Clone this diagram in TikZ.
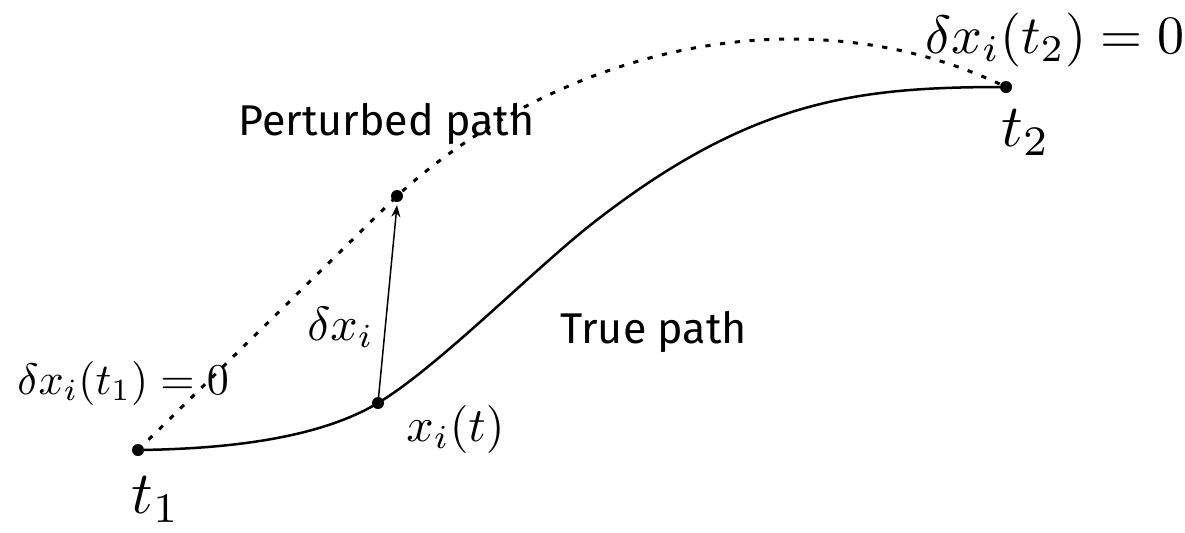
\documentclass[tikz,border=0pt]{standalone}
\usepackage{graphicx}
\usepackage{fontspec}
\usetikzlibrary{arrows.meta}
\newfontfamily\labelfont{Fira Sans}
\begin{document}
\begin{tikzpicture}[x=0.5pt,y=-0.5pt,
  dot/.style={circle,fill=black,inner sep=0pt,minimum size=6pt},
  truepath/.style={line width=1.25pt},
  pertpath/.style={line width=1.5pt,dash pattern=on 2.6pt off 4.8pt},
  vararrow/.style={line width=0.75pt,-{Stealth[length=6pt,width=4.5pt]}},
  lbl/.style={inner sep=0pt,anchor=base west},
  txtlbl/.style={lbl,font=\labelfont\fontsize{21.5}{26}\selectfont},
]
\useasboundingbox (0,0) rectangle (1185,532);
\node[dot] (t1) at (138,450) {};
\node[dot] (xi) at (378,403) {};
\node[dot] (xp) at (397,196) {};
\node[dot] (t2) at (1006,87) {};
\coordinate (pk) at (790,39);
\coordinate (mid) at (593,223);
\coordinate (tip) at (397,205);

\draw[truepath] (t1.center) .. controls (225,449) and (318,439) .. (xi.center)
  .. controls (438,367) and (533,270) .. (mid)
  .. controls (753,98) and (860,87) .. (t2.center);
\draw[pertpath] (t1.center) -- (xp.center) .. controls (480,120) and (620,40) .. (pk)
  .. controls (880,39) and (950,60) .. (t2.center);
\draw[vararrow] (xi.center) -- (tip);

\node[lbl] (l1) at (17,394) {\scalebox{2.2}{$\delta x_i(t_1) = 0$}};
\node[lbl] (lt1) at (131,513) {\scalebox{3}{$t_1$}};
\node[lbl] (lxi) at (406,441) {\scalebox{2.4}{$x_i(t)$}};
\node[lbl] (ldx) at (307,340) {\scalebox{2.4}{$\delta x_i$}};
\node[lbl] (l2) at (925,53) {\scalebox{2.7}{$\delta x_i(t_2) = 0$}};
\node[lbl] (lt2) at (1001,146) {\scalebox{3}{$t_2$}};
\node[txtlbl] (lp) at (238,135) {Perturbed path};
\node[txtlbl] (lt) at (560,343) {True path};
\end{tikzpicture}
\end{document}
